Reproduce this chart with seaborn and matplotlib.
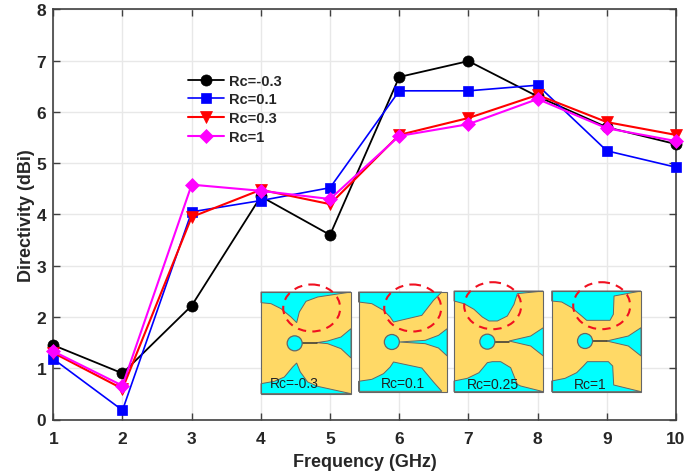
import pandas as pd
import seaborn as sns
import matplotlib
matplotlib.use("Agg")
import matplotlib.pyplot as plt
from matplotlib.patches import Circle, Ellipse, Polygon, Rectangle

# Values
freq = [1, 2, 3, 4, 5, 6, 7, 8, 9, 10]
rc_m03 = [1.45, 0.90, 2.22, 4.35, 3.60, 6.68, 6.99, 6.30, 5.70, 5.37]
rc_01 = [1.18, 0.18, 4.05, 4.27, 4.52, 6.41, 6.41, 6.52, 5.24, 4.92]
rc_03 = [1.30, 0.60, 3.95, 4.48, 4.20, 5.55, 5.88, 6.33, 5.80, 5.55]
rc_1 = [1.33, 0.66, 4.58, 4.46, 4.30, 5.53, 5.76, 6.25, 5.68, 5.43]

series_names = ["Rc=-0.3", "Rc=0.1", "Rc=0.3", "Rc=1"]
series_values = [rc_m03, rc_01, rc_03, rc_1]
series_colors = ["black", "#0000ff", "#ff0000", "#ff00ff"]
series_markers = ["o", "s", "v", "D"]
series_sizes = [8, 6.5, 9, 6.8]
series_widths = [1.3, 1.2, 1.5, 1.5]

x_ticks = [1, 2, 3, 4, 5, 6, 7, 8, 9, 10]
y_ticks = [0, 1, 2, 3, 4, 5, 6, 7, 8]

# Antenna thumbnails, outlines in zoomed-crop units (3x) from each box corner
inset_labels = ["Rc=-0.3", "Rc=0.1", "Rc=0.25", "Rc=1"]
inset_label_pos = [(294, 384), (402.7, 384), (493, 385), (590, 385)]
inset_boxes = [(261, 293, 90, 102), (358.5, 293, 88.5, 100), (454, 292, 89, 101), (551.7, 292, 89, 101)]
inset_circles = [(101, 154), (100, 150), (100, 152), (100, 150)]
inset_tops = [
    [(0, 0), (0, 32), (30, 35), (60, 50), (90, 75), (107, 92), (115, 60), (135, 28), (170, 15), (270, 0)],
    [(0, 0), (0, 30), (40, 35), (75, 55), (95, 75), (105, 90), (190, 70), (225, 25), (250, 0)],
    [(0, 0), (0, 30), (30, 38), (60, 55), (85, 78), (105, 90), (130, 90), (160, 75), (180, 40), (190, 8), (268, 0)],
    [(0, 0), (0, 30), (30, 33), (60, 50), (90, 75), (105, 88), (175, 88), (185, 70), (187, 15), (268, 0)],
]
inset_bottoms = [
    [(0, 275), (40, 268), (70, 255), (95, 225), (107, 213), (118, 240), (140, 270), (170, 283), (270, 305), (0, 305)],
    [(0, 268), (40, 262), (75, 245), (95, 225), (105, 210), (190, 228), (225, 270), (250, 298), (0, 298)],
    [(0, 270), (40, 262), (75, 245), (100, 215), (115, 212), (140, 212), (170, 230), (190, 280), (200, 285), (268, 302), (0, 302)],
    [(0, 270), (40, 262), (75, 245), (95, 225), (107, 212), (170, 212), (183, 225), (186, 282), (268, 302), (0, 302)],
]
inset_wedges = [
    [(270, 110), (240, 135), (200, 147), (167, 152), (200, 155), (240, 170), (270, 198)],
    [(266, 110), (240, 130), (200, 145), (122, 150), (200, 155), (240, 168), (266, 192)],
    [(268, 110), (230, 135), (165, 150), (230, 165), (268, 195)],
    [(268, 110), (230, 135), (165, 150), (230, 165), (268, 195)],
]
ring_centers = [(311.7, 309), (412.7, 309), (492.7, 306.7), (601.7, 306.7)]

TEXT_COLOR = "#262626"
SPINE_COLOR = "#404040"
CYAN = "#00ffff"
GOLD = "#ffd966"
EDGE = "#666666"

sns.set_theme(style="whitegrid")
plt.rcParams["font.family"] = ["Liberation Sans", "DejaVu Sans"]
plt.rcParams["font.weight"] = "bold"

fig = plt.figure(figsize=(7.0, 4.77), dpi=100)
ax = fig.add_axes([53.3 / 700, 1 - 420.5 / 477, (676 - 53.3) / 700, (420.5 - 10.3) / 477])

rows = []
for name, values in zip(series_names, series_values):
    rows.append(pd.DataFrame({"freq": freq, "value": values, "series": name}))
df = pd.concat(rows)

for name, color, marker, size, width in zip(series_names, series_colors, series_markers, series_sizes, series_widths):
    sns.lineplot(data=df[df["series"] == name], x="freq", y="value", ax=ax, color=color,
                 marker=marker, markersize=size, markeredgecolor=color, markeredgewidth=0.5,
                 linewidth=width, label=name, errorbar=None, clip_on=False, zorder=3)

ax.set_xlim(1, 10)
ax.set_ylim(0, 8)
ax.set_xticks(x_ticks)
ax.set_yticks(y_ticks)
ax.grid(True, color="#e8e8e8", linewidth=1)
ax.tick_params(axis="both", direction="in", length=5, width=1, color=SPINE_COLOR,
               labelsize=12.5, labelcolor=TEXT_COLOR, top=True, right=True, bottom=True, left=True)
ax.tick_params(axis="x", pad=8)
ax.tick_params(axis="y", pad=5)
for spine in ax.spines.values():
    spine.set_color(SPINE_COLOR)
    spine.set_linewidth(1.2)
ax.set_xlabel("Frequency (GHz)", fontsize=13, fontweight="bold", color=TEXT_COLOR, labelpad=5)
ax.set_ylabel("Directivity (dBi)", fontsize=13, fontweight="bold", color=TEXT_COLOR, labelpad=1)

leg = ax.legend(loc="upper left", bbox_to_anchor=(0.216, 0.843), frameon=False, fontsize=10.5,
                labelspacing=0.32, handlelength=2.5, handletextpad=0.35, borderpad=0, borderaxespad=0)
for text in leg.get_texts():
    text.set_color(TEXT_COLOR)
    text.set_fontweight("bold")

# Overlay in pixel coordinates for the thumbnails
over = fig.add_axes([0, 0, 1, 1], facecolor="none")
over.set_xlim(0, 700)
over.set_ylim(477, 0)
over.axis("off")

for i, (x0, y0, w, h) in enumerate(inset_boxes):
    def to_px(pts):
        return [(x0 + p[0] / 3, y0 + p[1] / 3) for p in pts]

    over.add_patch(Rectangle((x0, y0), w, h, facecolor=GOLD, edgecolor="none", zorder=1))
    for shape in (inset_tops[i], inset_bottoms[i], inset_wedges[i]):
        over.add_patch(Polygon(to_px(shape), closed=True, facecolor=CYAN, edgecolor=EDGE, linewidth=0.7, zorder=2))
    over.add_patch(Rectangle((x0, y0), w, h, facecolor="none", edgecolor=EDGE, linewidth=0.8, zorder=3))
    cx, cy = to_px([inset_circles[i]])[0]
    tip_x = to_px([inset_wedges[i][len(inset_wedges[i]) // 2]])[0][0]
    over.plot([cx, tip_x], [cy, cy], color="#333333", linewidth=1.1, zorder=3)
    over.add_patch(Circle((cx, cy), 7.5, facecolor=CYAN, edgecolor=EDGE, linewidth=0.9, zorder=4))
    over.add_patch(Ellipse(ring_centers[i], 57, 47, fill=False, edgecolor="#f01020", linewidth=1.5,
                           linestyle=(0, (4, 3)), zorder=5))
    over.text(inset_label_pos[i][0], inset_label_pos[i][1], inset_labels[i], fontsize=10, fontweight="normal",
              color="#222222", ha="center", va="center", zorder=6)

fig.savefig("out.png", dpi=100, facecolor="white")
